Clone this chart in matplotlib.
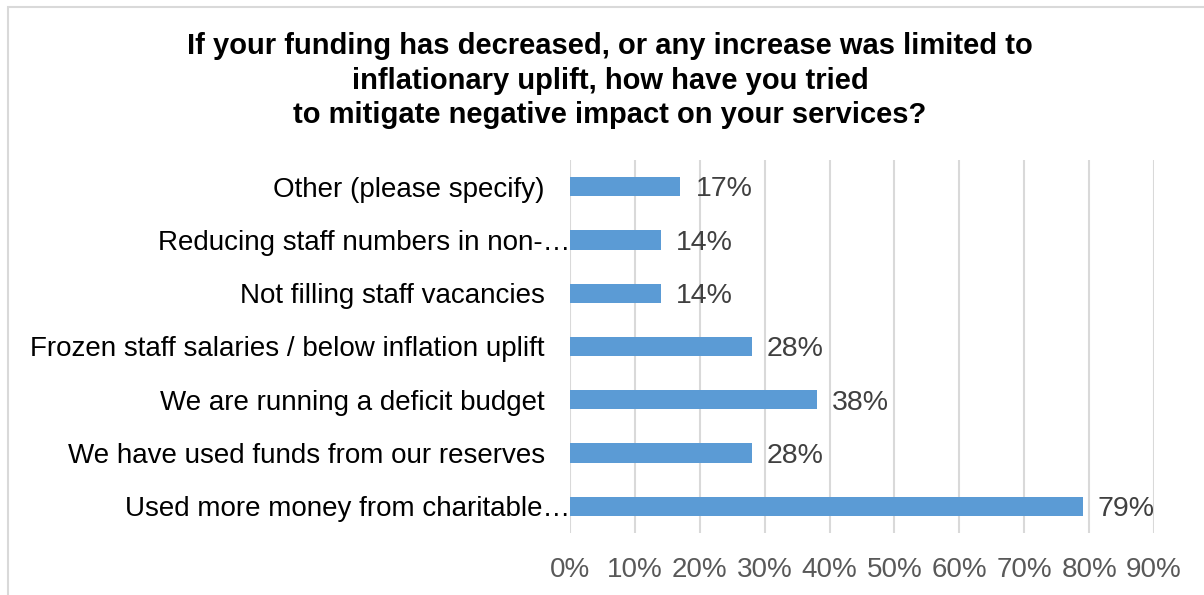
import matplotlib
matplotlib.use("Agg")
import matplotlib.pyplot as plt
import matplotlib.transforms as mtransforms
from matplotlib.patches import Rectangle
from matplotlib.ticker import PercentFormatter

plt.rcParams['font.family'] = ['Liberation Sans', 'DejaVu Sans']

# respostas (de baixo para cima)
categorias = [
    'Used more money from charitable…',
    'We have used funds from our reserves',
    'We are running a deficit budget',
    'Frozen staff salaries / below inflation uplift',
    'Not filling staff vacancies',
    'Reducing staff numbers in non-…',
    'Other (please specify)',
]
percentuais = [79, 28, 38, 28, 14, 14, 17]
ticks_x = [0, 10, 20, 30, 40, 50, 60, 70, 80, 90]

titulo = ('If your funding has decreased, or any increase was limited to\n'
          'inflationary uplift, how have you tried\n'
          'to mitigate negative impact on your services?')

fig = plt.figure(figsize=(12.04, 5.95), dpi=100)
ax = fig.add_axes([0.4734, 0.1042, 0.4851, 0.6269])

# moldura cinza do gráfico
fig.patches.append(Rectangle((8 / 1204, -0.1), 1.2, 1 - 7 / 595 + 0.1,
                             transform=fig.transFigure, fill=False,
                             edgecolor='#D9D9D9', linewidth=1.5))

y = range(len(categorias))
barras = ax.barh(y, percentuais, height=0.36, color='#5B9BD5', zorder=3)

for b, v in zip(barras, percentuais):
    ax.annotate(f'{v}%', (b.get_width(), b.get_y() + b.get_height() / 2),
                xytext=(11, -2), textcoords='offset points',
                va='center', ha='left', fontsize=20.5, color='#404040')

ax.set_xlim(0, 90)
ax.set_ylim(-0.5, len(categorias) - 0.5)
ax.set_xticks(ticks_x)
ax.xaxis.set_major_formatter(PercentFormatter(decimals=0))
ax.set_yticks(list(y))
ax.set_yticklabels(categorias)

ax.grid(axis='x', color='#D9D9D9', linewidth=1.5, zorder=0)
for s in ax.spines.values():
    s.set_visible(False)

ax.tick_params(axis='x', length=0, pad=17, labelsize=20, labelcolor='#595959')
ax.tick_params(axis='y', length=0, pad=18, labelsize=20, labelcolor='#000000')

# rótulos cortados encostam no eixo
desloc = mtransforms.ScaledTranslation(18 / 72, 0, fig.dpi_scale_trans)
for lbl in ax.get_yticklabels():
    if lbl.get_text().endswith('…'):
        lbl.set_transform(lbl.get_transform() + desloc)

fig.text(0.5066, 0.946, titulo, ha='center', va='top', fontsize=21,
         fontweight='bold', color='#000000', linespacing=1.3)

fig.savefig('out.png', dpi=100)
